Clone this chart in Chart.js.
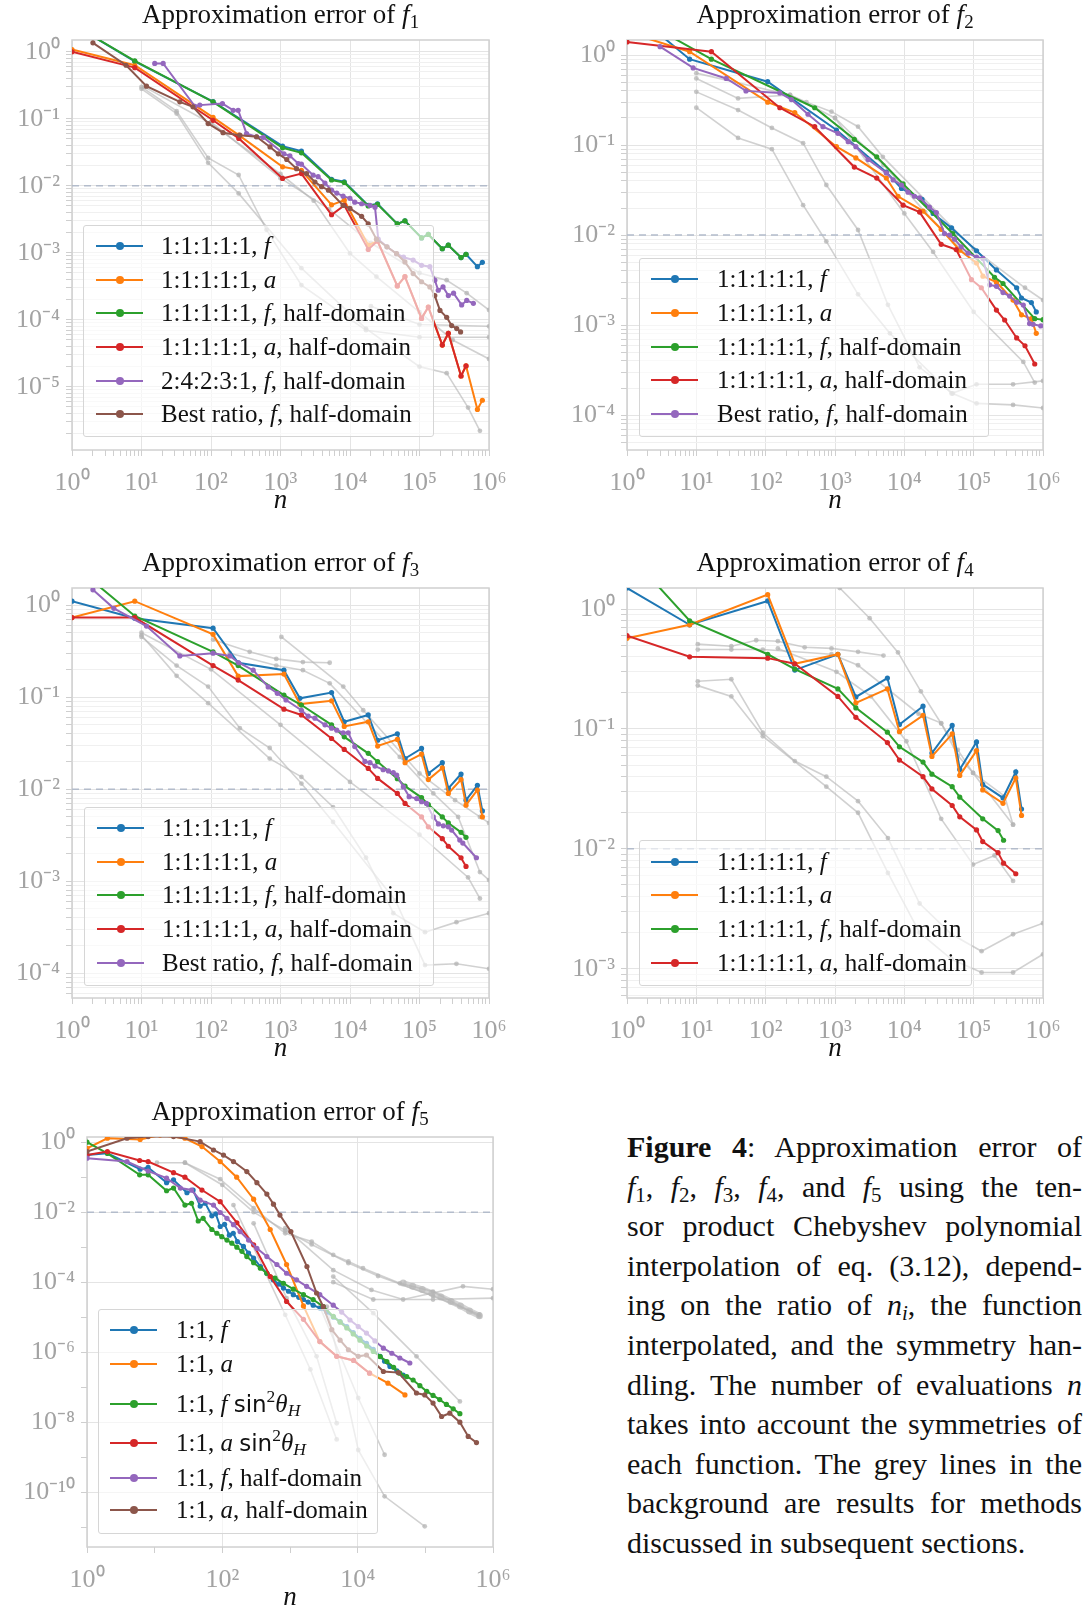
<!DOCTYPE html>
<html>
<head>
<meta charset="utf-8">
<script src="https://cdn.jsdelivr.net/npm/chart.js@4.4.0/dist/chart.umd.min.js"></script>
<style>
  body { margin: 0; background: #fff; width: 1086px; height: 1609px; position: relative; overflow: hidden; font-family: "Liberation Serif", serif; color: #111; }
  canvas { position: absolute; }
  .title { position: absolute; text-align: center; font-size: 27px; line-height: 30px; height: 30px; }
  .leg { position: absolute; background: rgba(255,255,255,0.62); border: 1px solid #d6d6d6; border-radius: 3px; box-sizing: border-box; }
  .row { position: absolute; left: 0; right: 0; height: 34px; line-height: 34px; font-size: 25px; white-space: nowrap; }
  .sw { position: absolute; top: 16px; height: 2px; width: 47px; }
  .sw::after { content: ""; position: absolute; left: 19.5px; top: -3px; width: 8px; height: 8px; border-radius: 50%; background: inherit; }
  .lab { position: absolute; left: 77px; }
  sub, sup { font-size: 70%; line-height: 0; }
  sub { vertical-align: -0.25em; }
  sup { vertical-align: 0.55em; }
  .sf { font-family: "DejaVu Sans", sans-serif; font-size: 92%; }
  .cap { position: absolute; left: 627px; top: 1127px; width: 455px; font-size: 30px; }
  .cap div { height: 39.6px; line-height: 39.6px; text-align: justify; text-align-last: justify; }
  .cap div.last { text-align: left; text-align-last: left; }
</style>
</head>
<body>
<script>
// ---------- data: [n, error] pairs ----------
const f1Blue = [[1,2.6],[8,0.72],[107,0.18],[1070,0.039],[2000,0.033],[5430,0.0125],[8260,0.0115],[18300,0.0051],[24900,0.0054],[47900,0.0027],[61700,0.003],[107000,0.00167],[134000,0.00188],[213000,0.00115],[260000,0.0013],[396000,0.00085],[467000,0.00095],[681000,0.00062],[803000,0.00072]];
const f1Orange = [[1,1.08],[8,0.63],[107,0.105],[251,0.057],[1070,0.0192],[2000,0.017],[5430,0.0052],[8260,0.0061],[18300,0.0013],[24900,0.0015],[47900,0.00032],[61700,0.00044],[107000,0.000105],[134000,0.000155],[213000,4.2e-5],[260000,6.3e-5],[396000,1.45e-5],[467000,2.05e-5],[681000,4.6e-6],[803000,6.3e-6]];
const f1Green = [[1,2.6],[8,0.73],[107,0.179],[1070,0.0369],[2000,0.0311],[5430,0.0122],[8260,0.0112],[18300,0.005],[24900,0.0053],[47900,0.0027],[61700,0.003],[107000,0.00167],[134000,0.00188],[213000,0.00115],[260000,0.0013],[396000,0.00085],[467000,0.00095]];
const f1Red = [[1,1.0],[8,0.58],[107,0.095],[251,0.051],[1070,0.0129],[2000,0.0152],[5430,0.0037],[8260,0.0051],[18300,0.00112],[24900,0.0015],[47900,0.00032],[61700,0.00044],[107000,0.000105],[134000,0.000155],[213000,4.2e-5],[260000,6.3e-5],[396000,1.45e-5],[467000,2.05e-5]];
const f1Purple = [[15.5,0.67],[20.5,0.67],[58.6,0.154],[69,0.16],[146,0.169],[209,0.134],[246,0.134],[325,0.06],[452,0.054],[565,0.053],[1120,0.03],[1365,0.028],[1800,0.0215],[2000,0.021],[2950,0.0144],[3480,0.0137],[4360,0.011],[5430,0.0086],[6450,0.0078],[7960,0.007],[9970,0.0065],[11700,0.0057],[14700,0.0054],[19400,0.0051],[22900,0.0048],[25500,0.0016],[34000,0.00123],[46800,0.00097],[58900,0.00086],[81000,0.00078],[107000,0.00065],[141000,0.00062],[166000,0.00039],[186000,0.000276],[218000,0.00031],[260000,0.00023],[309000,0.00025],[404000,0.000167],[478000,0.000195],[596000,0.000176]];
const f1Brown = [[2,1.36],[6,0.63],[11.8,0.307],[35.6,0.179],[55,0.151],[91,0.085],[149,0.062],[260,0.057],[452,0.054],[707,0.038],[930,0.03],[1230,0.0247],[1700,0.018],[2370,0.0152],[3130,0.0114],[3900,0.0097],[4900,0.0086],[7960,0.0051],[10000,0.0046],[14700,0.0035],[18300,0.0027],[24000,0.0016],[34000,0.00123],[46800,0.00097],[61700,0.00073],[81000,0.00049],[107000,0.00037],[141000,0.00031],[166000,0.00023],[197000,0.000138],[246000,0.000109],[290000,0.000082],[343000,0.000074],[390000,0.000066]];
const f1Grey = [
  [[10,0.28],[32,0.12],[91,0.022],[250,0.0077],[2000,0.00059],[17000,7.4e-5],[100000,2e-5],[246000,1.6e-5],[500000,4.9e-6],[740000,2.2e-6]],
  [[10,0.3],[32,0.13],[91,0.026],[250,0.0145],[630,0.0022],[2000,3.3e-4],[17000,7e-5],[100000,5.5e-5],[1000000,5.5e-5]],
  [[11,0.3],[100,0.085],[1000,0.015],[3000,0.006],[10000,0.00098],[24000,0.00044],[100000,0.00013],[300000,5e-5],[1000000,2.6e-5]],
  [[100,0.09],[1000,0.013],[5000,0.0045],[20000,0.0014],[100000,0.0005],[246000,3.9e-4],[478000,2.5e-4],[1000000,1.4e-4]],
  [[20000,1.6e-4],[100000,8.5e-5],[1000000,8e-5]]
];
const f1Labels = ["1:1:1:1:1, <i>f</i>", "1:1:1:1:1, <i>a</i>", "1:1:1:1:1, <i>f</i>, half-domain", "1:1:1:1:1, <i>a</i>, half-domain", "2:4:2:3:1, <i>f</i>, half-domain", "Best ratio, <i>f</i>, half-domain"];

const f2Blue = [[1,3.4],[8,0.9],[107,0.506],[1050,0.147],[5500,0.05],[9100,0.033],[18000,0.025],[26000,0.0174],[48000,0.012],[110000,0.0067],[213000,0.0041],[417000,0.0026],[490000,0.002],[680000,0.00178],[800000,0.0014]];
const f2Orange = [[1,1.8],[8,1.09],[107,0.3],[263,0.23],[1050,0.096],[2000,0.072],[5500,0.043],[8100,0.027],[18600,0.0185],[34000,0.0116],[63000,0.0068],[110000,0.0049],[136000,0.0035],[213000,0.003],[370000,0.0019],[490000,0.0013],[680000,0.00118],[800000,0.00081]];
const f2Green = [[1,3.0],[16.5,0.9],[510,0.26],[1900,0.116],[4000,0.074],[9600,0.037],[50000,0.0104],[200000,0.0034],[265000,0.0029],[760000,0.00118],[1000000,0.00115]];
const f2Red = [[1,1.4],[16.5,1.09],[160,0.26],[510,0.16],[1900,0.057],[4000,0.043],[9600,0.0215],[16600,0.018],[34000,0.0079],[56000,0.0069],[93000,0.0032],[129000,0.0026],[213000,0.00147],[280000,0.00114],[417000,0.00072],[550000,0.00059],[760000,0.00037]];
const f2Purple = [[3,1.24],[9,0.72],[27,0.55],[52,0.4],[160,0.38],[235,0.32],[408,0.22],[670,0.16],[1100,0.135],[1550,0.109],[2000,0.096],[3000,0.069],[5500,0.049],[6900,0.041],[9100,0.036],[11300,0.03],[14000,0.027],[16600,0.026],[23000,0.0205],[29000,0.0178],[38000,0.0104],[45000,0.01],[53000,0.009],[66000,0.0074],[83000,0.0063],[110000,0.0057],[136000,0.0055],[170000,0.0028],[213000,0.0027],[265000,0.0023],[330000,0.0021],[417000,0.0018],[520000,0.00167],[640000,0.00104],[720000,0.00102],[930000,0.00098]];
const f2Grey = [
  [[10,0.63],[225,0.36],[388,0.3],[890,0.235],[2150,0.16],[4900,0.074],[100000,0.007],[550000,0.0026],[1000000,0.0019]],
  [[10,0.55],[40,0.33],[225,0.36],[1000,0.2],[5000,0.06],[20000,0.018],[100000,0.005]],
  [[10,0.39],[40,0.245],[123,0.155],[347,0.105],[750,0.036],[2150,0.0114],[5800,0.00168],[16600,3.4e-4],[50000,1.74e-4],[110000,1.35e-4],[370000,1.3e-4],[1000000,1.2e-4]],
  [[10,0.26],[40,0.12],[123,0.09],[347,0.0215],[750,0.0085],[2150,0.0022],[6200,8.1e-4],[48000,1.74e-4],[110000,2.2e-4],[370000,2.2e-4],[1000000,2.4e-4]],
  [[1000,0.2],[10000,0.0174],[26000,0.0065],[100000,0.0014],[520000,3.9e-4],[760000,2.3e-4]]
];
const f2Labels = ["1:1:1:1:1, <i>f</i>", "1:1:1:1:1, <i>a</i>", "1:1:1:1:1, <i>f</i>, half-domain", "1:1:1:1:1, <i>a</i>, half-domain", "Best ratio, <i>f</i>, half-domain"];

const f3Blue = [[1,1.1],[8,0.72],[107,0.56],[246,0.236],[1120,0.196],[1900,0.097],[5430,0.112],[8260,0.054],[18300,0.064],[25000,0.034],[48000,0.04],[62000,0.0215],[107000,0.0277],[134000,0.0148],[213000,0.0194],[260000,0.0102],[396000,0.0146],[467000,0.0076],[681000,0.011],[803000,0.0058]];
const f3Orange = [[1,0.73],[8,1.1],[107,0.48],[246,0.169],[1120,0.178],[1900,0.084],[5430,0.091],[8260,0.048],[18300,0.054],[25000,0.0294],[48000,0.0347],[62000,0.0194],[107000,0.024],[134000,0.0127],[213000,0.017],[260000,0.009],[396000,0.0127],[467000,0.0067],[681000,0.0098],[803000,0.005]];
const f3Green = [[1,2.8],[8,0.76],[107,0.31],[246,0.22],[1120,0.105],[2000,0.082],[5430,0.05],[8260,0.037],[18300,0.0245],[25000,0.0199],[48000,0.013],[62000,0.0108],[107000,0.0081],[134000,0.0068],[213000,0.005],[260000,0.0043],[396000,0.0034],[467000,0.003]];
const f3Red = [[1,0.73],[8,0.73],[107,0.22],[246,0.153],[1120,0.074],[2000,0.064],[5430,0.0355],[8260,0.027],[18300,0.0168],[25000,0.0131],[48000,0.009],[62000,0.007],[107000,0.005],[134000,0.0039],[213000,0.0029],[260000,0.0024],[396000,0.0018],[467000,0.00145]];
const f3Purple = [[2,1.46],[4,0.92],[11.8,0.59],[35.6,0.28],[107,0.3],[187,0.28],[250,0.236],[405,0.196],[665,0.129],[900,0.11],[1200,0.093],[2000,0.072],[2500,0.062],[3130,0.059],[4360,0.05],[5430,0.046],[6450,0.0437],[7960,0.041],[9440,0.041],[11700,0.029],[16400,0.02],[19400,0.0194],[22900,0.0178],[30000,0.0163],[35700,0.0158],[42000,0.0151],[47000,0.0142],[58500,0.0106],[71000,0.0083],[91000,0.0079],[107000,0.0073],[126000,0.007],[158000,0.005],[187000,0.0042],[220000,0.004],[260000,0.0039],[290000,0.0036],[380000,0.0028],[420000,0.0026],[660000,0.0018]];
const f3Grey = [
  [[10,0.47],[32,0.17],[91,0.086],[700,0.0215],[2000,0.0136],[5700,0.0064],[17000,0.0018],[42000,4.5e-4],[120000,2.8e-4],[340000,3.6e-4],[1000000,4.5e-4]],
  [[10,0.45],[32,0.22],[91,0.13],[260,0.046],[700,0.028],[2000,0.0115],[5700,0.0044],[45000,6.2e-4],[120000,1.23e-4],[340000,1.27e-4],[1000000,1.12e-4]],
  [[107,0.42],[360,0.31],[870,0.26],[2100,0.24],[5100,0.236]],
  [[1030,0.45],[8000,0.13],[15500,0.072],[100000,0.0148],[325000,0.0076],[740000,0.005],[1000000,0.0043]],
  [[187,0.3],[870,0.22],[2100,0.196],[5100,0.141],[52000,0.0224],[158000,0.009],[360000,0.005],[740000,0.00126],[1000000,0.00103]],
  [[10,0.5],[100,0.2],[1000,0.05],[10000,0.012],[100000,0.0032],[500000,0.0011],[740000,6.5e-4]]
];
const f3Labels = f2Labels;

const f4Blue = [[1,1.5],[8,0.74],[107,1.17],[263,0.31],[1100,0.42],[2000,0.185],[5700,0.266],[8500,0.109],[18600,0.155],[25000,0.063],[49000,0.107],[63000,0.046],[110000,0.078],[135000,0.0345],[265000,0.0266],[405000,0.044],[490000,0.0215]];
const f4Orange = [[1,0.57],[8,0.74],[107,1.32],[263,0.35],[1100,0.42],[2000,0.165],[5700,0.216],[8500,0.095],[18600,0.13],[25000,0.059],[49000,0.091],[63000,0.041],[110000,0.066],[135000,0.031],[265000,0.024],[405000,0.039],[490000,0.019]];
const f4Green = [[1,3.0],[8,0.8],[107,0.42],[263,0.316],[1100,0.216],[2000,0.15],[5700,0.094],[8500,0.071],[18600,0.053],[25000,0.042],[49000,0.033],[63000,0.027],[135000,0.0178],[225000,0.0142],[270000,0.0118]];
const f4Red = [[1,0.6],[8,0.4],[107,0.39],[263,0.35],[1100,0.187],[2000,0.125],[5700,0.077],[8500,0.055],[18600,0.04],[25000,0.0316],[49000,0.023],[63000,0.0185],[110000,0.0144],[135000,0.0115],[225000,0.0093],[270000,0.0076],[405000,0.0062]];
const f4Grey = [
  [[10.5,0.25],[32,0.26],[91,0.093],[263,0.054],[750,0.04],[2150,0.025],[5800,0.0123],[16600,0.0035],[48000,0.00194],[130000,0.0014],[370000,0.00194],[1000000,0.0024]],
  [[10.5,0.23],[32,0.187],[91,0.087],[750,0.033],[2150,0.02],[5800,0.0063],[16600,0.002],[48000,0.0012],[130000,9.3e-4],[370000,9.3e-4],[1000000,0.00132]],
  [[10.5,0.51],[32,0.49],[73,0.55],[150,0.54],[365,0.48],[890,0.47],[2150,0.44],[5000,0.41]],
  [[10.5,0.46],[32,0.46],[91,0.46],[890,0.42],[2150,0.34],[16000,0.134],[34000,0.112],[59000,0.06],[98000,0.043],[280000,0.0275],[370000,0.0159]],
  [[150,0.47],[1050,0.3],[3300,0.187],[10700,0.079],[34000,0.0178],[98000,0.0074],[200000,0.0088],[370000,0.0054]],
  [[1170,1.5],[3160,0.84],[8100,0.435],[17300,0.206],[34000,0.111],[59000,0.067],[98000,0.043],[370000,0.0159]]
];
const f4Labels = ["1:1:1:1:1, <i>f</i>", "1:1:1:1:1, <i>a</i>", "1:1:1:1:1, <i>f</i>, half-domain", "1:1:1:1:1, <i>a</i>, half-domain"];

const f5Blue = [[1,0.43],[2,0.48],[6.1,0.17],[8,0.19],[15,0.07],[19,0.084],[30,0.036],[37,0.043],[47,0.015],[56,0.018],[70,0.0079],[80,0.009],[93,0.0039],[108,0.0045],[127,0.0022],[145,0.0025],[167,0.00145],[205,0.00105],[244,6.8e-4],[290,4.9e-4],[365,2.8e-4],[455,1.8e-4],[565,1.17e-4],[680,8.8e-5],[800,6.8e-5],[950,5.5e-5],[1120,4.4e-5],[1350,3.7e-5],[1580,3.2e-5],[1850,2.7e-5],[2200,2.2e-5],[2800,1.8e-5],[3500,1.4e-5],[4400,1e-5],[5500,7.5e-6],[6900,5.4e-6],[8600,3.6e-6],[10800,2.5e-6],[13500,1.8e-6],[17000,1.2e-6],[21400,7.6e-7],[25000,5.5e-7],[30000,3.9e-7],[38000,2.9e-7],[47000,2.2e-7]];
const f5Orange = [[1,0.67],[2,1.3],[6.1,1.2],[12,1.6],[28,1.3],[50,0.75],[93,0.28],[163,0.1],[290,0.0235],[510,0.0032],[890,3.2e-4],[1580,2.1e-5],[2760,2.0e-6],[4900,7.6e-7],[8700,5.8e-7],[15000,2.5e-7],[28000,1.3e-7],[50000,6.0e-8]];
const f5Green = [[1,1.0],[2,0.48],[6,0.117],[8,0.117],[15,0.041],[19,0.049],[28,0.016],[35,0.018],[44,0.0056],[52,0.0067],[70,0.0032],[83,0.0025],[98,0.002],[117,0.0016],[138,0.0013],[164,0.001],[195,7.6e-4],[230,5.4e-4],[290,3.6e-4],[365,2.5e-4],[455,1.8e-4],[600,1.3e-4],[800,9.3e-5],[1120,6.3e-5],[1580,4.4e-5],[2200,3.2e-5],[3100,2.0e-5],[4360,1.05e-5],[5500,7.2e-6],[6900,4.9e-6],[8600,3.3e-6],[10800,2.2e-6],[13600,1.5e-6],[17000,1.05e-6],[21500,7.5e-7],[27000,5.4e-7],[34000,3.7e-7],[42000,2.5e-7],[53000,2.0e-7],[66000,1.6e-7],[83000,1.1e-7],[105000,7.6e-8],[130000,5.8e-8],[163000,4.4e-8],[205000,3.2e-8],[258000,2.4e-8],[324000,1.74e-8]];
const f5Red = [[1,0.43],[2,0.54],[6,0.3],[8,0.28],[19,0.135],[28,0.1],[50,0.043],[93,0.02],[164,0.005],[290,0.00117],[510,1.45e-4],[890,2.8e-5],[1580,8.7e-6],[2760,2.0e-6],[4900,7.6e-7],[8700,5.8e-7],[15000,2.5e-7]];
const f5Purple = [[1,0.35],[3.9,0.28],[8,0.15],[15,0.094],[24,0.049],[35,0.043],[47,0.022],[74,0.016],[93,0.0098],[117,0.0067],[146,0.0044],[183,0.0028],[244,0.0016],[324,9.3e-4],[455,5.4e-4],[640,3.2e-4],[890,1.8e-4],[1250,1.17e-4],[1760,7.6e-5],[2760,4.4e-5],[4360,2.2e-5],[5800,1.4e-5],[7700,8.3e-6],[10200,5.4e-6],[13500,3.5e-6],[18000,2.1e-6],[24000,1.3e-6],[32000,9.3e-7],[42000,6.8e-7],[59000,4.9e-7]];
const f5Brown = [[1,0.54],[3.9,1.3],[8,1.45],[19,1.45],[47,1.04],[74,0.6],[104,0.43],[146,0.28],[230,0.145],[324,0.07],[455,0.033],[570,0.017],[710,0.0083],[1030,0.0028],[1780,2.8e-4],[2470,4.9e-5],[3100,2.0e-5],[4150,4.4e-6],[5500,2.2e-6],[7300,1.17e-6],[10200,7.6e-7],[13500,8.3e-7],[24000,2.8e-7],[40000,2.6e-7],[74000,6.8e-8],[98000,6.0e-8],[130000,3.5e-8],[174000,1.45e-8],[230000,1.8e-8],[324000,1.0e-8],[430000,3.9e-9],[570000,2.6e-9]];
const f5Grey = [
  [[10.8,0.26],[28,0.26],[93,0.088],[290,0.013],[850,0.0025],[2090,0.00145],[4360,6e-4],[7300,3.9e-4],[12000,2.5e-4],[42000,9.3e-5],[130000,5.4e-5],[630000,1.05e-5]],
  [[28,0.26],[100,0.06],[290,0.01],[850,0.003],[2090,0.0012],[7300,3.5e-4],[20000,1.5e-4],[130000,4e-5],[630000,1.2e-5]],
  [[850,0.0035],[4360,2.2e-4],[16000,6e-5],[47000,3.2e-5],[360000,7.6e-5],[1000000,6.3e-5]],
  [[4360,1e-4],[17000,3.2e-5],[130000,3.2e-5],[1000000,3.5e-5]],
  [[146,0.016],[850,1.17e-5],[2000,3.2e-7],[4900,3.2e-9]],
  [[290,0.0048],[890,3.5e-5],[2470,7.6e-7],[4900,9.3e-9]],
  [[2760,2e-5],[10200,4.9e-8],[25000,1.17e-9]],
  [[3500,2e-5],[10200,1.6e-9],[25000,7.6e-11],[98000,1.05e-11]],
  [[4360,1.45e-4],[17000,1.3e-5],[74000,7.6e-7],[324000,3.9e-8]]
];
// dense grey band at the right of the f5 panel
const f5Band = [[47000,9.5e-5],[65000,7.6e-5],[90000,6.2e-5],[125000,4.8e-5],[170000,3.8e-5],[240000,2.8e-5],[330000,2.1e-5],[450000,1.5e-5],[630000,1.1e-5]];
const sinH = '<span class="sf">sin</span><sup>2</sup><i>θ</i><sub><i>H</i></sub>';
const f5Labels = ["1:1, <i>f</i>", "1:1, <i>a</i>", "1:1, <i>f</i> " + sinH, "1:1, <i>a</i> " + sinH, "1:1, <i>f</i>, half-domain", "1:1, <i>a</i>, half-domain"];

const threshold = 0.01;
const xLimits = [1, 1e6];

// ---------- drawing ----------
const tab = ["#1f77b4", "#ff7f0e", "#2ca02c", "#d62728", "#9467bd", "#8c564b"];
const SUP = { "-": "⁻", "0": "⁰", "1": "¹", "2": "²", "3": "³", "4": "⁴", "5": "⁵", "6": "⁶", "7": "⁷", "8": "⁸", "9": "⁹" };
const sup = (n) => String(n).split("").map((c) => SUP[c]).join("");

function decade(v) {
  const l = Math.log10(v);
  return Math.abs(l - Math.round(l)) < 1e-6 ? Math.round(l) : null;
}

function logTicks(min, max, decadesOnly) {
  const t = [];
  for (let e = Math.floor(Math.log10(min)); e <= Math.ceil(Math.log10(max)); e++) {
    for (let k = 1; k < 10; k++) {
      if (decadesOnly && k > 1) break;
      const v = k * Math.pow(10, e);
      if (v >= min * 0.999 && v <= max * 1.001) t.push({ value: v });
    }
  }
  return t;
}

const frame = {
  id: "frame",
  beforeDatasetsDraw(chart) {
    const a = chart.chartArea, c = chart.ctx;
    c.save();
    c.strokeStyle = "#d0d0d0";
    c.lineWidth = 1.5;
    c.strokeRect(a.left, a.top, a.right - a.left, a.bottom - a.top);
    c.restore();
  },
};

function panel(p) {
  const yW = 68, xH = 70, padT = 10, padR = 30;
  const [L, T, R, B] = p.rect;
  const w = R - L + yW + padR, h = B - T + padT + xH;
  const cv = document.createElement("canvas");
  cv.width = w; cv.height = h;
  Object.assign(cv.style, { left: L - yW + "px", top: T - padT + "px", width: w + "px", height: h + "px" });
  document.body.appendChild(cv);

  const ds = [];
  if (p.band) ds.push({ data: p.band, borderColor: "rgba(200,200,200,0.8)", backgroundColor: "rgba(190,190,190,0.8)", borderWidth: 6, pointRadius: 3.5 });
  p.grey.forEach((g) => ds.push({ data: g, borderColor: "rgba(180,180,180,0.62)", backgroundColor: "rgba(180,180,180,0.75)", borderWidth: 1.6, pointRadius: 2.4 }));
  ds.push({ data: [[xLimits[0], threshold], [xLimits[1], threshold]], borderColor: "#b3bccb", borderWidth: 1.5, borderDash: [7, 5], pointRadius: 0 });
  p.series.forEach((s, i) => ds.push({ data: s, borderColor: tab[i], backgroundColor: tab[i], borderWidth: 2, pointRadius: 2.6 }));
  ds.forEach((d, i) => { d.order = ds.length - i; d.tension = 0; d.pointBorderWidth = 0; d.pointHoverRadius = 0; });

  const isMajor = (v) => { const d = decade(v); return d !== null && (!p.even || d % 2 === 0); };
  const label = (v) => (isMajor(v) ? "10" + sup(decade(v)) : "");
  const tickFont = { family: "Liberation Serif", size: 26 };

  new Chart(cv, {
    type: "line",
    data: { datasets: ds },
    plugins: [frame],
    options: {
      responsive: false,
      animation: false,
      devicePixelRatio: 1,
      events: [],
      layout: { padding: { left: 0, top: padT, right: padR, bottom: 0 } },
      plugins: { legend: { display: false }, tooltip: { enabled: false } },
      scales: {
        x: {
          type: "logarithmic", min: xLimits[0], max: xLimits[1],
          afterBuildTicks: (s) => { s.ticks = logTicks(xLimits[0], xLimits[1], p.even); },
          afterFit: (s) => { s.height = xH; s.paddingLeft = 0; s.paddingRight = 0; },
          border: { display: false },
          grid: { color: (c) => (isMajor(c.tick.value) ? "#e4e4e4" : "rgba(0,0,0,0)"), tickColor: "#cfcfcf", tickLength: 6 },
          ticks: { autoSkip: false, maxRotation: 0, minRotation: 0, padding: 12, color: "#a3a3a3", font: tickFont, callback: label },
          title: { display: true, text: "n", color: "#111", font: { family: "Liberation Serif", size: 27, style: "italic" }, padding: { top: 0, bottom: 3 } },
        },
        y: {
          type: "logarithmic", min: p.yLim[0], max: p.yLim[1],
          afterBuildTicks: (s) => { s.ticks = logTicks(p.yLim[0], p.yLim[1], p.even); },
          afterFit: (s) => { s.width = yW; s.paddingTop = 0; s.paddingBottom = 0; },
          border: { display: false },
          grid: { color: (c) => (isMajor(c.tick.value) ? "#e4e4e4" : (p.even ? "rgba(0,0,0,0)" : "#f0f0f0")), tickColor: "#cfcfcf", tickLength: 6 },
          ticks: { autoSkip: false, padding: 6, color: "#a3a3a3", font: tickFont, callback: label },
        },
      },
    },
  });

  const t = document.createElement("div");
  t.className = "title";
  Object.assign(t.style, { left: L + "px", width: R - L + "px", top: T - 41 + "px" });
  t.innerHTML = "Approximation error of <i>f</i><sub>" + p.k + "</sub>";
  document.body.appendChild(t);

  const lg = document.createElement("div");
  lg.className = "leg";
  const [bl, bt, br, bb] = p.legBox;
  Object.assign(lg.style, { left: bl + "px", top: bt + "px", width: br - bl + "px", height: bb - bt + "px" });
  p.labels.forEach((txt, i) => {
    const r = document.createElement("div");
    r.className = "row";
    r.style.top = p.legRows[i] - bt - 17 + "px";
    r.innerHTML = '<span class="sw" style="left:' + p.swLeft + 'px;background:' + tab[i] + '"></span><span class="lab">' + txt + "</span>";
    lg.appendChild(r);
  });
  document.body.appendChild(lg);
}

panel({ k: 1, rect: [72, 40, 489, 450], yLim: [1.14e-6, 1.5], series: [f1Blue, f1Orange, f1Green, f1Red, f1Purple, f1Brown], grey: f1Grey, labels: f1Labels,
  legBox: [83, 225, 434, 437], legRows: [245, 279, 312, 346, 380, 413], swLeft: 12 });
panel({ k: 2, rect: [627, 40, 1043, 450], yLim: [4.1e-5, 1.47], series: [f2Blue, f2Orange, f2Green, f2Red, f2Purple], grey: f2Grey, labels: f2Labels,
  legBox: [639, 258, 989, 437], legRows: [278, 312, 346, 379, 413], swLeft: 11 });
panel({ k: 3, rect: [72, 588, 489, 998], yLim: [5.4e-5, 1.53], series: [f3Blue, f3Orange, f3Green, f3Red, f3Purple], grey: f3Grey, labels: f3Labels,
  legBox: [84, 807, 434, 986], legRows: [827, 861, 894, 928, 962], swLeft: 12 });
panel({ k: 4, rect: [627, 588, 1043, 998], yLim: [5.7e-4, 1.5], series: [f4Blue, f4Orange, f4Green, f4Red], grey: f4Grey, labels: f4Labels,
  legBox: [639, 840, 972, 986], legRows: [861, 894, 928, 962], swLeft: 11 });
panel({ k: 5, rect: [87, 1137, 493, 1547], yLim: [2.7e-12, 1.41], even: true, series: [f5Blue, f5Orange, f5Green, f5Red, f5Purple, f5Brown], grey: f5Grey, band: f5Band, labels: f5Labels,
  legBox: [98, 1309, 378, 1534], legRows: [1329, 1363, 1403, 1442, 1477, 1509], swLeft: 11 });
</script>
<div class="cap">
  <div><b>Figure 4</b>: Approximation error of</div>
  <div><i>f</i><sub>1</sub>, <i>f</i><sub>2</sub>, <i>f</i><sub>3</sub>, <i>f</i><sub>4</sub>, and <i>f</i><sub>5</sub> using the ten-</div>
  <div>sor product Chebyshev polynomial</div>
  <div>interpolation of eq. (3.12), depend-</div>
  <div>ing on the ratio of <i>n<sub>i</sub></i>, the function</div>
  <div>interpolated, and the symmetry han-</div>
  <div>dling. The number of evaluations <i>n</i></div>
  <div>takes into account the symmetries of</div>
  <div>each function. The grey lines in the</div>
  <div>background are results for methods</div>
  <div class="last">discussed in subsequent sections.</div>
</div>
</body>
</html>
